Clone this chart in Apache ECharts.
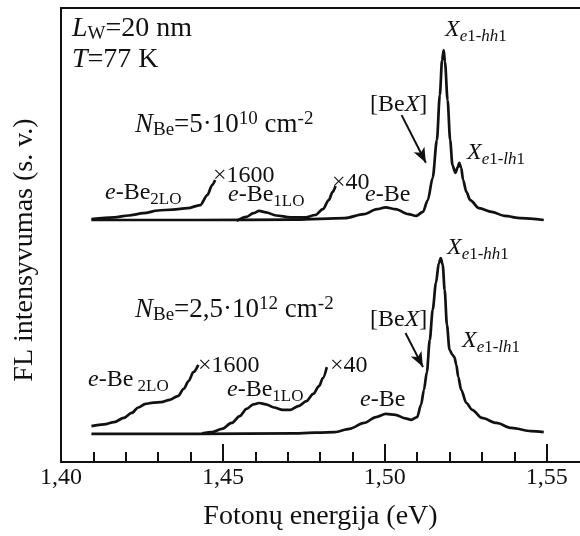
<!DOCTYPE html>
<html>
<head>
<meta charset="utf-8">
<script src="https://cdn.jsdelivr.net/npm/echarts@6/dist/echarts.min.js"></script>
<style>
  html, body { margin: 0; padding: 0; background: #fff; }
  #chart { width: 580px; height: 536px; }
</style>
</head>
<body>
<div id="chart"></div>
<script>
// Photoluminescence spectra of Be-doped quantum wells (arbitrary intensity units, curves offset vertically)

// N_Be = 5·10^10 cm^-2 : main spectrum
const topMainE = [1.4094, 1.4421, 1.4724, 1.4876, 1.4936, 1.4976, 1.5003, 1.5033, 1.5073, 1.5097,
  1.5118, 1.5133, 1.5148, 1.5161, 1.5170, 1.5177, 1.5182, 1.5186, 1.5194, 1.5202,
  1.5209, 1.5218, 1.5226, 1.5230, 1.5236, 1.5242, 1.5252, 1.5264, 1.5291, 1.5330,
  1.5370, 1.5421, 1.5491];
const topMainI = [53.3, 53.3, 53.4, 53.7, 54.6, 55.7, 56.1, 55.7, 54.6, 54.2,
  55.1, 57.7, 62.6, 70.9, 80.8, 88.5, 90.7, 88.1, 79.7, 70.9,
  65.4, 63.7, 65.0, 65.9, 64.8, 62.1, 59.5, 57.7, 55.9, 55.1,
  54.2, 53.7, 53.3];
// N_Be = 5·10^10 cm^-2 : ×1600 segment
const topX1600E = [1.4094, 1.4164, 1.4209, 1.4255, 1.4300, 1.4345, 1.4391, 1.4430, 1.4452, 1.4467, 1.4476];
const topX1600I = [53.5, 53.9, 54.3, 54.8, 55.4, 55.6, 55.9, 56.6, 58.8, 61.0, 62.1];
// N_Be = 5·10^10 cm^-2 : ×40 segment
const topX40E = [1.4542, 1.4573, 1.4594, 1.4612, 1.4633, 1.4664, 1.4709, 1.4755, 1.4785, 1.4809, 1.4827, 1.4839, 1.4848];
const topX40I = [53.1, 54.0, 54.8, 55.3, 55.0, 54.3, 53.9, 53.9, 54.4, 55.7, 57.7, 59.5, 60.8];

// N_Be = 2,5·10^12 cm^-2 : main spectrum
const botMainE = [1.4094, 1.4421, 1.4724, 1.4845, 1.4891, 1.4936, 1.4973, 1.5003, 1.5033, 1.5064,
  1.5082, 1.5100, 1.5112, 1.5121, 1.5130, 1.5139, 1.5148, 1.5158, 1.5167, 1.5173,
  1.5179, 1.5185, 1.5192, 1.5200, 1.5209, 1.5215, 1.5221, 1.5227, 1.5236, 1.5252,
  1.5270, 1.5300, 1.5345, 1.5391, 1.5452, 1.5491];
const botMainI = [6.2, 6.2, 6.3, 6.6, 7.3, 8.6, 9.9, 10.6, 10.4, 9.6,
  9.3, 9.9, 12.6, 15.9, 19.8, 26.9, 33.5, 39.4, 43.8, 44.9,
  43.4, 37.9, 30.2, 24.7, 23.6, 23.1, 21.4, 18.7, 15.9, 13.0,
  11.5, 9.7, 8.6, 7.5, 6.8, 6.6];
// N_Be = 2,5·10^12 cm^-2 : ×1600 segment
const botX1600E = [1.4094, 1.4133, 1.4164, 1.4194, 1.4218, 1.4239, 1.4261, 1.4285, 1.4309, 1.4336, 1.4361, 1.4379, 1.4394, 1.4409, 1.4424];
const botX1600I = [7.9, 8.3, 8.8, 9.7, 10.8, 12.0, 12.8, 13.1, 13.2, 13.7, 14.5, 16.1, 17.8, 19.8, 21.4];
// N_Be = 2,5·10^12 cm^-2 : ×40 segment
const botX40E = [1.4436, 1.4467, 1.4497, 1.4527, 1.4552, 1.4573, 1.4594, 1.4612, 1.4633, 1.4658, 1.4685, 1.4709, 1.4733, 1.4758, 1.4779, 1.4797, 1.4809, 1.4821];
const botX40I = [6.3, 6.6, 7.3, 8.6, 10.1, 11.7, 12.7, 13.0, 12.7, 12.0, 11.5, 11.5, 12.3, 13.4, 15.0, 16.7, 18.5, 20.9];

// [BeX] pointer arrows: [start, end] in (energy, intensity)
const arrowTop = [[1.5052, 76.4], [1.5127, 65.9]];
const arrowBot = [[1.5064, 28.4], [1.5118, 20.9]];

// x axis range, labelled (major) ticks and minor ticks
const xMin = 1.40, xMax = 1.5603;
const majorTicks = [1.40, 1.45, 1.50, 1.55];
const majorTickLabels = ['1,40', '1,45', '1,50', '1,55'];
const minorTicks = [1.41, 1.42, 1.43, 1.44, 1.46, 1.47, 1.48, 1.49, 1.51, 1.52, 1.53, 1.54];

const pairs = (xs, ys) => xs.map((x, i) => [x, ys[i]]);

const FONT = '"Liberation Serif", "DejaVu Serif", serif';
const INK = '#111';

const lineSeries = (data, extra) => Object.assign({
  type: 'line',
  data: data,
  showSymbol: false,
  smooth: 0.3,
  smoothMonotone: 'x',
  lineStyle: { color: INK, width: 2.7 },
  silent: true,
  animation: false
}, extra || {});

const arrowMark = (a) => ({
  silent: true,
  animation: false,
  symbol: ['none', 'arrow'],
  symbolSize: [9, 15],
  label: { show: false },
  lineStyle: { color: INK, width: 2, type: 'solid' },
  data: [[{ coord: a[0] }, { coord: a[1] }]]
});

// rich text styles: normal, italic, subscript, italic subscript, superscript
// (suffix L: large header text, N: doping-level text)
const st = (size, lh, extra) => Object.assign({ fontFamily: FONT, fontSize: size, lineHeight: lh, color: INK }, extra || {});
const rich = {
  n:  st(24, 30),
  i:  st(24, 30, { fontStyle: 'italic' }),
  s:  st(17, 16, { verticalAlign: 'bottom' }),
  si: st(17, 16, { verticalAlign: 'bottom', fontStyle: 'italic' }),
  nL: st(28, 30),
  iL: st(28, 30, { fontStyle: 'italic' }),
  sL: st(19, 17, { verticalAlign: 'bottom' }),
  nN: st(27, 30),
  iN: st(27, 30, { fontStyle: 'italic' }),
  sN: st(19, 17, { verticalAlign: 'bottom' }),
  pN: st(19, 17, { verticalAlign: 'top' })
};

const label = (x, y, text) => ({
  type: 'text',
  x: x, y: y,
  silent: true,
  style: { text: text, rich: rich, fill: INK, verticalAlign: 'top', align: 'left' }
});

const labels = [
  label(72, 14, '{iL|L}{sL|W}{nL|=20 nm}'),
  label(72, 45, '{iL|T}{nL|=77 K}'),
  // upper spectrum
  label(135, 110, '{iN|N}{sN|Be}{nN|=5·10}{pN|10}{nN| cm}{pN|-2}'),
  label(105, 178, '{i|e}{n|-Be}{s|2LO}'),
  label(213, 161, '{n|×1600}'),
  label(228, 180, '{i|e}{n|-Be}{s|1LO}'),
  label(332, 168, '{n|×40}'),
  label(365, 180, '{i|e}{n|-Be}'),
  label(370, 90, '{n|[Be}{i|X}{n|]}'),
  label(445, 15, '{i|X}{si|e}{s|1-}{si|hh}{s|1}'),
  label(467, 138, '{i|X}{si|e}{s|1-}{si|lh}{s|1}'),
  // lower spectrum
  label(135, 295, '{iN|N}{sN|Be}{nN|=2,5·10}{pN|12}{nN| cm}{pN|-2}'),
  label(88, 365, '{i|e}{n|-Be}{s| 2LO}'),
  label(198, 351, '{n|×1600}'),
  label(227, 375, '{i|e}{n|-Be}{s|1LO}'),
  label(330, 351, '{n|×40}'),
  label(360, 385, '{i|e}{n|-Be}'),
  label(370, 305, '{n|[Be}{i|X}{n|]}'),
  label(447, 233, '{i|X}{si|e}{s|1-}{si|hh}{s|1}'),
  label(462, 326, '{i|X}{si|e}{s|1-}{si|lh}{s|1}'),
  // y axis title
  {
    type: 'text',
    x: 25, y: 250,
    rotation: Math.PI / 2,
    silent: true,
    style: {
      text: 'FL intensyvumas (s. v.)',
      fontFamily: FONT, fontSize: 28, fill: INK,
      align: 'center', verticalAlign: 'middle'
    }
  }
];

const chart = echarts.init(document.getElementById('chart'), null, { renderer: 'canvas' });

chart.setOption({
  animation: false,
  backgroundColor: '#fff',
  grid: { left: 61, right: -10, top: 8, bottom: 74, containLabel: false },
  xAxis: [
    {
      type: 'value', position: 'bottom', min: xMin, max: xMax,
      axisLine: { show: true, lineStyle: { color: INK, width: 2 } },
      axisTick: {
        show: true, inside: true, length: 18, customValues: majorTicks,
        lineStyle: { color: INK, width: 2 }
      },
      axisLabel: {
        show: true, margin: 4, color: INK, fontFamily: FONT, fontSize: 24,
        customValues: majorTicks,
        formatter: (v) => {
          const k = majorTicks.findIndex((t) => Math.abs(t - v) < 1e-6);
          return k >= 0 ? majorTickLabels[k] : '';
        }
      },
      splitLine: { show: false },
      name: 'Fotonų energija (eV)',
      nameLocation: 'middle',
      nameGap: 41,
      nameTextStyle: { color: INK, fontFamily: FONT, fontSize: 28 }
    },
    {
      type: 'value', position: 'bottom', min: xMin, max: xMax,
      axisLine: { show: true, lineStyle: { color: 'rgba(0,0,0,0)', width: 2 } },
      axisTick: {
        show: true, inside: true, length: 10, customValues: minorTicks,
        lineStyle: { color: INK, width: 2 }
      },
      axisLabel: { show: false },
      splitLine: { show: false }
    },
    {
      type: 'value', position: 'top', min: xMin, max: xMax,
      axisLine: { show: true, lineStyle: { color: INK, width: 2 } },
      axisTick: { show: false },
      axisLabel: { show: false },
      splitLine: { show: false }
    }
  ],
  yAxis: {
    type: 'value', min: 0, max: 100,
    axisLine: { show: true, lineStyle: { color: INK, width: 2 } },
    axisTick: { show: false },
    axisLabel: { show: false },
    splitLine: { show: false }
  },
  series: [
    lineSeries(pairs(topMainE, topMainI), { markLine: arrowMark(arrowTop) }),
    lineSeries(pairs(topX1600E, topX1600I)),
    lineSeries(pairs(topX40E, topX40I)),
    lineSeries(pairs(botMainE, botMainI), { markLine: arrowMark(arrowBot) }),
    lineSeries(pairs(botX1600E, botX1600I)),
    lineSeries(pairs(botX40E, botX40I))
  ],
  graphic: labels
});
</script>
</body>
</html>
